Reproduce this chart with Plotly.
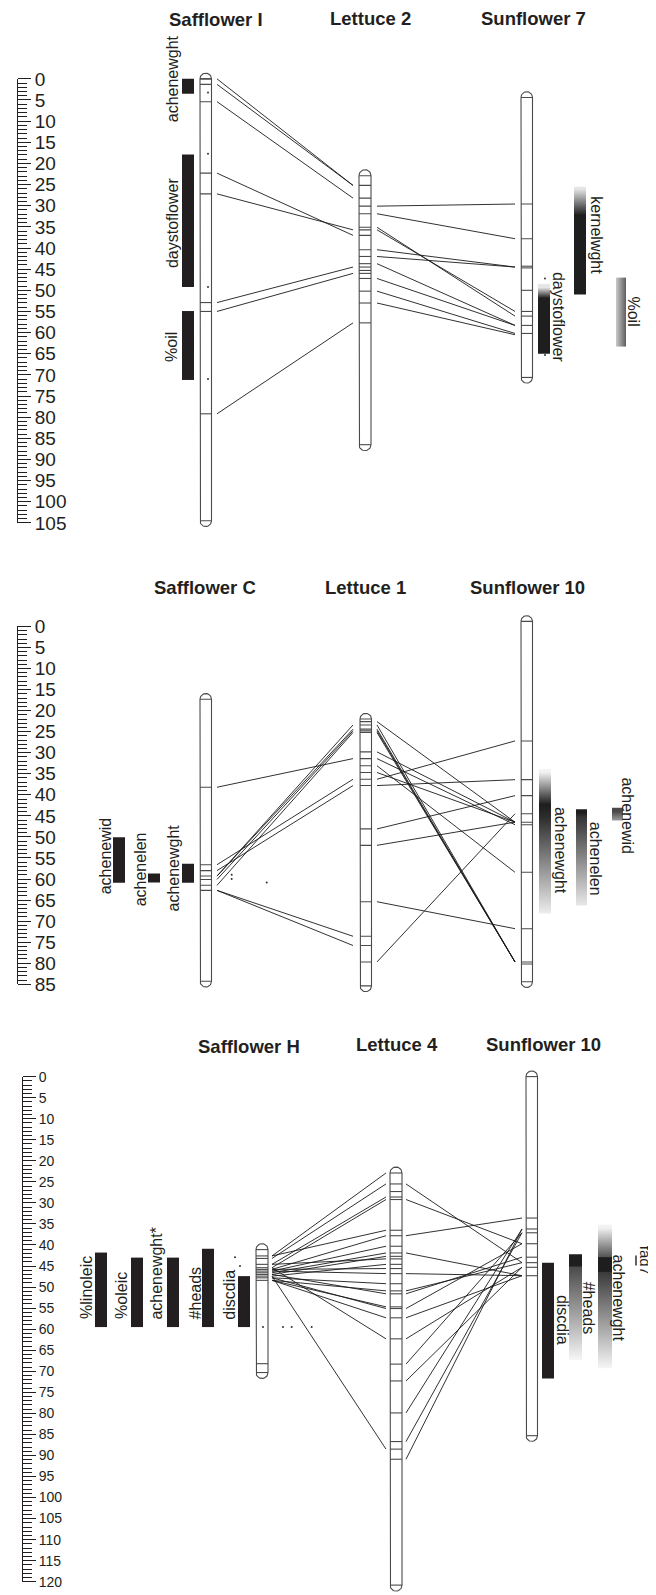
import numpy as np
import plotly.graph_objects as go

W, H = 656, 1595
FONT = "Liberation Sans, Arial, Helvetica, sans-serif"
INK = "#231f20"
CHROM = "#4a4a4a"
LINK = "#1a1a1a"

# ======================= DATA (all positions in cM) =======================
# ---- Panel 1 : Safflower I / Lettuce 2 / Sunflower 7
safI_span = [0.0, 104.5]
safI_markers = [0.0, 1.3, 5.4, 22.3, 27.2, 52.9, 55.0, 79.2]
safI_dots = [3.2, 17.7, 49.2, 71.0]
let2_span = [22.9, 86.5]
let2_markers = [25.2, 28.2, 30.1, 31.9, 35.1, 35.7, 37.0, 40.4, 42.0, 43.7,
                44.5, 45.3, 46.0, 47.2, 50.2, 53.0, 57.7]
sun7_span = [4.4, 70.6]
sun7_markers = [29.6, 37.8, 44.3, 44.7, 50.0, 55.0, 56.1, 58.3, 60.2]
sun7_dots = [47.2, 65.3]
safI_let2_from = [0.0, 1.3, 5.4, 22.3, 27.2, 52.9, 55.0, 79.2]
safI_let2_to = [25.2, 25.2, 28.2, 37.0, 35.7, 44.5, 46.0, 57.7]
let2_sun7_from = [30.1, 31.9, 35.1, 35.7, 40.4, 42.0, 43.7, 47.2, 50.2, 53.0]
let2_sun7_to = [29.6, 37.8, 56.1, 55.0, 44.5, 44.5, 58.3, 58.3, 60.2, 60.5]
safI_qtl = ["achenewght", "daystoflower", "%oil"]
safI_qtl_from = [0.0, 17.9, 54.9]
safI_qtl_to = [3.5, 49.2, 71.2]
sun7_qtl = ["daystoflower", "kernelwght", "%oil"]
sun7_qtl_from = [48.5, 25.5, 47.0]
sun7_qtl_to = [65.0, 51.0, 63.3]

# ---- Panel 2 : Safflower C / Lettuce 1 / Sunflower 10
safC_span = [17.3, 84.3]
safC_markers = [38.2, 56.6, 58.0, 59.3, 60.1, 61.5, 62.7]
safC_dots = [59.0, 60.0, 60.8]
let1_span = [22.0, 85.4]
let1_markers = [22.6, 23.4, 24.4, 24.8, 25.2, 29.8, 31.4, 33.1, 34.7, 36.3,
                37.8, 48.1, 52.0, 65.4, 73.6, 75.8, 79.7]
sun10a_span = [-1.2, 84.4]
sun10a_markers = [27.2, 36.4, 40.2, 44.5, 46.5, 47.1, 58.4, 71.8, 79.7, 80.2]
safC_let1_from = [38.2, 56.6, 58.0, 59.3, 59.3, 60.1, 61.5, 62.7, 62.7]
safC_let1_to = [31.4, 36.3, 37.8, 23.4, 24.4, 24.8, 25.2, 73.6, 75.8]
let1_sun10_from = [22.6, 23.4, 24.4, 24.8, 25.2, 29.8, 31.4, 33.1, 34.7,
                   36.3, 37.8, 48.1, 52.0, 65.4, 79.7]
let1_sun10_to = [46.5, 79.7, 79.7, 79.7, 79.7, 46.5, 47.1, 58.4, 46.5,
                 27.2, 36.4, 40.2, 46.5, 71.8, 44.5]
safC_qtl = ["achenewid", "achenelen", "achenewght"]
safC_qtl_from = [50.1, 58.7, 56.4]
safC_qtl_to = [60.9, 60.8, 60.9]
sun10a_qtl = ["achenewght", "achenelen", "achenewid"]
sun10a_qtl_from = [33.9, 43.4, 43.1]
sun10a_qtl_to = [68.2, 66.3, 46.1]

# ---- Panel 3 : Safflower H / Lettuce 4 / Sunflower 10
safH_span = [41.1, 70.3]
safH_markers = [42.6, 43.2, 44.6, 45.4, 45.8, 46.2, 46.6, 47.0, 47.4, 47.8,
                48.4, 68.2]
safH_dots = [42.9, 45.0, 59.5, 59.5, 59.5, 59.5]
let4_span = [22.9, 120.8]
let4_markers = [25.5, 27.3, 28.6, 29.2, 36.5, 37.8, 40.3, 41.9, 42.7, 43.3,
                44.6, 45.6, 46.8, 49.2, 50.9, 51.6, 54.7, 55.1, 57.3, 62.3,
                68.3, 72.3, 79.9, 86.7, 88.5, 90.9]
sun10b_span = [0.0, 85.3]
sun10b_markers = [33.6, 36.2, 37.1, 39.7, 42.9, 44.2, 45.3, 47.3]
safH_let4_from = [42.6, 43.2, 44.6, 45.4, 42.6, 45.8, 46.2, 46.6, 47.0, 44.6,
                  47.4, 45.8, 46.2, 47.8, 48.4, 47.0, 48.4, 47.8, 48.4, 45.4,
                  47.4]
safH_let4_to = [22.9, 25.5, 28.6, 29.2, 36.5, 37.8, 40.3, 41.9, 42.7, 43.3,
                44.6, 45.6, 46.8, 49.2, 50.9, 51.6, 54.7, 55.1, 57.3, 62.3,
                88.5]
let4_sun10_from = [25.5, 29.2, 37.8, 41.9, 46.8, 50.9, 51.6, 55.1, 57.3, 62.3,
                   68.3, 72.3, 79.9, 86.7, 90.9]
let4_sun10_to = [44.2, 39.7, 33.6, 47.3, 47.3, 44.2, 42.9, 39.7, 47.3, 45.3,
                 37.1, 45.3, 36.2, 37.1, 36.2]
safH_qtl = ["%linoleic", "%oleic", "achenewght*", "#heads", "discdia"]
safH_qtl_from = [41.8, 43.0, 43.0, 40.9, 47.4]
safH_qtl_to = [59.5, 59.5, 59.5, 59.5, 59.5]
sun10b_qtl = ["discdia", "#heads", "achenewght"]
sun10b_qtl_from = [44.2, 42.2, 35.2]
sun10b_qtl_to = [71.7, 67.3, 69.3]
fad7_mark = [42.5, 44.9]

titles = [["Safflower I", "Lettuce 2", "Sunflower 7"],
          ["Safflower C", "Lettuce 1", "Sunflower 10"],
          ["Safflower H", "Lettuce 4", "Sunflower 10"]]
ruler_max = [105, 85, 120]

# ======================= LAYOUT / STYLE =======================
# The page is rendered with an offset (page margin); these constants
# compensate so that target pixel positions land where intended.
SHIFT_X = 8.0
TOP_OFF = 17.0
PLOT_H = H - TOP_OFF


def paper_x(px):
    return (px - SHIFT_X) / W


def paper_y(py):
    return (H - py) / PLOT_H


PANELS = [
    dict(y0=78.0, s=4.24, top=TOP_OFF, bot=540, rx=17, fs=19),
    dict(y0=627.0, s=4.22, top=540, bot=1000, rx=17, fs=19),
    dict(y0=1078.3, s=4.22, top=1000, bot=1595, rx=22, fs=14),
]
YK = ["y", "y2", "y3"]
TITLE_POS = [[(216, 19), (370, 18), (533, 18)],
             [(205, 588), (365, 588), (527, 588)],
             [(249, 1048), (397, 1046), (543, 1046)]]
BLACK = INK


def vgrad(stops):
    return dict(type="vertical", colorscale=stops)


QTL_STYLE = {
    (0, "achenewght"): BLACK, (0, "daystoflower"): BLACK, (0, "%oil"): BLACK,
    (0, "s_daystoflower"): vgrad([[0, "#e6e6e6"], [0.15, "#1e1e1e"], [1, "#1e1e1e"]]),
    (0, "s_kernelwght"): vgrad([[0, "#e6e6e6"], [0.24, "#1e1e1e"], [1, "#1e1e1e"]]),
    (0, "s_%oil"): dict(type="horizontal", colorscale=[[0, "#c9c9c9"], [1, "#5e5e5e"]]),
    (1, "s_achenewght"): vgrad([[0, "#f2f2f2"], [0.22, "#1e1e1e"], [0.3, "#2b2b2b"], [1, "#f7f7f7"]]),
    (1, "s_achenelen"): vgrad([[0, "#1e1e1e"], [0.04, "#333333"], [1, "#f2f2f2"]]),
    (1, "s_achenewid"): vgrad([[0, "#4a4a4a"], [1, "#bdbdbd"]]),
    (2, "s_discdia"): BLACK,
    (2, "s_#heads"): vgrad([[0, "#1e1e1e"], [0.08, "#1e1e1e"], [0.085, "#4a4a4a"], [1, "#ffffff"]]),
    (2, "s_achenewght"): vgrad([[0, "#f2f2f2"], [0.2, "#555555"], [0.205, "#1e1e1e"],
                                 [0.3, "#1e1e1e"], [0.305, "#3a3a3a"], [1, "#ffffff"]]),
}

traces = []
annotations = []


def add_links(row, xa, xb, a, b):
    xs, ys = [], []
    for u, v in zip(a, b):
        xs += [xa, xb, None]
        ys += [u, v, None]
    traces.append(go.Scatter(x=xs, y=ys, mode="lines", yaxis=YK[row],
                             line=dict(color=LINK, width=0.9), hoverinfo="skip"))


def add_chrom(row, xr, span, markers):
    x0, x1 = xr
    c0, c1 = span
    s = PANELS[row]["s"]
    r = (x1 - x0) / 2.0
    xc = (x0 + x1) / 2.0
    ry = r / s
    t = np.linspace(0, np.pi, 24)
    px = [x0, x0] + list(xc - r * np.cos(t)) + [x1, x1] + list(xc + r * np.cos(t))
    py = [c0, c1] + list(c1 + ry * np.sin(t)) + [c1, c0] + list(c0 - ry * np.sin(t))
    traces.append(go.Scatter(x=px, y=py, mode="lines", fill="toself", fillcolor="white",
                             yaxis=YK[row], line=dict(color=CHROM, width=1.1), hoverinfo="skip"))
    mx, my = [], []
    for m in [c0, c1] + list(markers):
        mx += [x0, x1, None]
        my += [m, m, None]
    traces.append(go.Scatter(x=mx, y=my, mode="lines", yaxis=YK[row],
                             line=dict(color=CHROM, width=1.1), hoverinfo="skip"))


def add_bar(row, xr, c0, c1, style):
    x0, x1 = xr
    kw = dict(x=[x0, x1, x1, x0, x0], y=[c0, c0, c1, c1, c0], mode="lines", fill="toself",
              yaxis=YK[row], line=dict(width=0), hoverinfo="skip")
    if isinstance(style, str):
        kw["fillcolor"] = style
    else:
        g = dict(style)
        if g["type"] == "vertical":
            g["start"], g["stop"] = c0, c1
        else:
            g["start"], g["stop"] = x0, x1
        kw["fillgradient"] = g
    traces.append(go.Scatter(**kw))


def add_label(row, text, x, yc, angle, size=16):
    annotations.append(dict(text=text, x=x, y=yc, xref="x", yref=YK[row], showarrow=False,
                            textangle=angle, xanchor="center", yanchor="middle",
                            font=dict(family=FONT, size=size, color=INK)))


def add_dots(row, xs, ys):
    traces.append(go.Scatter(x=xs, y=ys, mode="markers", yaxis=YK[row],
                             marker=dict(size=2, color="#333333"), hoverinfo="skip", cliponaxis=False))


# ---- Panel 1
add_links(0, 217, 353, safI_let2_from, safI_let2_to)
add_links(0, 377, 515, let2_sun7_from, let2_sun7_to)
add_chrom(0, (200, 211.5), safI_span, safI_markers)
add_chrom(0, (359, 371), let2_span, let2_markers)
add_chrom(0, (521, 532.5), sun7_span, sun7_markers)
add_dots(0, [208] * len(safI_dots), safI_dots)
add_dots(0, [545] * len(sun7_dots), sun7_dots)
for n, a, b in zip(safI_qtl, safI_qtl_from, safI_qtl_to):
    add_bar(0, (182, 194), a, b, QTL_STYLE[(0, n)])
SUN7_X = {"daystoflower": (538, 550), "kernelwght": (574, 586), "%oil": (616, 626)}
for n, a, b in zip(sun7_qtl, sun7_qtl_from, sun7_qtl_to):
    add_bar(0, SUN7_X[n], a, b, QTL_STYLE[(0, "s_" + n)])
for n, yc in zip(safI_qtl, [0.1, 34.1, 63.4]):
    add_label(0, n, 172, yc, -90)
for n, x, yc in zip(sun7_qtl, [558, 597, 634], [56.3, 37.0, 55.0]):
    add_label(0, n, x, yc, 90)

# ---- Panel 2
add_links(1, 217, 353, safC_let1_from, safC_let1_to)
add_links(1, 377, 515, let1_sun10_from, let1_sun10_to)
add_chrom(1, (200, 211.5), safC_span, safC_markers)
add_chrom(1, (360, 371.5), let1_span, let1_markers)
add_chrom(1, (521, 532.5), sun10a_span, sun10a_markers)
add_dots(1, [231.7, 231.7, 266.7], safC_dots)
SAFC_X = {"achenewid": (113, 125), "achenelen": (148, 160), "achenewght": (182, 194)}
for n, a, b in zip(safC_qtl, safC_qtl_from, safC_qtl_to):
    add_bar(1, SAFC_X[n], a, b, BLACK)
SUN10A_X = {"achenewght": (539, 551), "achenelen": (576, 587), "achenewid": (612, 623)}
for n, a, b in zip(sun10a_qtl, sun10a_qtl_from, sun10a_qtl_to):
    add_bar(1, SUN10A_X[n], a, b, QTL_STYLE[(1, "s_" + n)])
for n, x, yc in zip(safC_qtl, [105, 140, 173], [54.6, 57.7, 57.5]):
    add_label(1, n, x, yc, -90)
for n, x, yc in zip(sun10a_qtl, [560, 595, 628], [53.1, 55.2, 44.9]):
    add_label(1, n, x, yc, 90)

# ---- Panel 3
add_links(2, 272, 386, safH_let4_from, safH_let4_to)
add_links(2, 406, 522, let4_sun10_from, let4_sun10_to)
add_chrom(2, (256, 268), safH_span, safH_markers)
add_chrom(2, (390, 402), let4_span, let4_markers)
add_chrom(2, (526, 537.5), sun10b_span, sun10b_markers)
add_dots(2, [235, 240, 263, 283, 291.7, 311.7], safH_dots)
SAFH_X = {"%linoleic": (95, 107), "%oleic": (131, 143), "achenewght*": (167, 179),
          "#heads": (202, 214), "discdia": (238, 250)}
for n, a, b in zip(safH_qtl, safH_qtl_from, safH_qtl_to):
    add_bar(2, SAFH_X[n], a, b, BLACK)
SUN10B_X = {"discdia": (542, 554), "#heads": (569, 582), "achenewght": (598, 612)}
for n, a, b in zip(sun10b_qtl, sun10b_qtl_from, sun10b_qtl_to):
    add_bar(2, SUN10B_X[n], a, b, QTL_STYLE[(2, "s_" + n)])
for n, x, yc in zip(safH_qtl, [87, 122, 157, 195, 230], [50.2, 52.1, 46.8, 51.5, 51.8]):
    add_label(2, n, x, yc, -90)
for n, x, yc in zip(sun10b_qtl, [562, 588, 618], [57.8, 54.9, 52.5]):
    add_label(2, n, x, yc, 90)
add_label(2, "fad7", 645, 43.5, 90, size=15)
traces.append(go.Scatter(x=[636, 636], y=fad7_mark, mode="lines", yaxis="y3",
                         line=dict(color=INK, width=1.4), hoverinfo="skip"))

# ---- titles
for r in range(3):
    for t, (px, py) in zip(titles[r], TITLE_POS[r]):
        annotations.append(dict(text="<b>%s</b>" % t, x=paper_x(px), y=paper_y(py), xref="paper",
                                yref="paper", showarrow=False, xanchor="center", yanchor="middle",
                                font=dict(family=FONT, size=18.5, color=INK)))

# ---- rulers (dummy traces to create the ruler axes)
for r in range(3):
    traces.append(go.Scatter(x=[None], y=[None], yaxis="y%d" % (r + 4), mode="markers",
                             showlegend=False, hoverinfo="skip"))

layout = dict(
    width=W, height=H, margin=dict(l=0, r=0, t=0, b=0),
    paper_bgcolor="white", plot_bgcolor="rgba(0,0,0,0)", showlegend=False,
    xaxis=dict(range=[SHIFT_X, SHIFT_X + W], domain=[0, 1], visible=False, fixedrange=True),
    annotations=annotations,
)
for r, p in enumerate(PANELS):
    key = "yaxis" if r == 0 else "yaxis%d" % (r + 1)
    layout[key] = dict(domain=[paper_y(p["bot"]), paper_y(p["top"])],
                       range=[(p["bot"] - p["y0"]) / p["s"], (p["top"] - p["y0"]) / p["s"]],
                       visible=False, fixedrange=True)
    mx = ruler_max[r]
    layout["yaxis%d" % (r + 4)] = dict(
        domain=[paper_y(p["y0"] + mx * p["s"]), paper_y(p["y0"])],
        range=[mx, 0], anchor="free", position=paper_x(p["rx"]), side="right",
        showline=True, linecolor=INK, linewidth=1,
        ticks="outside", ticklen=13, tickwidth=1, tickcolor=INK,
        tickmode="linear", tick0=0, dtick=5,
        minor=dict(ticks="outside", ticklen=9, tickwidth=1, tickcolor=INK,
                   tickmode="linear", tick0=0, dtick=1, showgrid=False),
        showgrid=False, zeroline=False, fixedrange=True,
        tickfont=dict(family=FONT, size=p["fs"], color=INK))

fig = go.Figure(data=traces, layout=layout)
fig.write_html("out.html")
